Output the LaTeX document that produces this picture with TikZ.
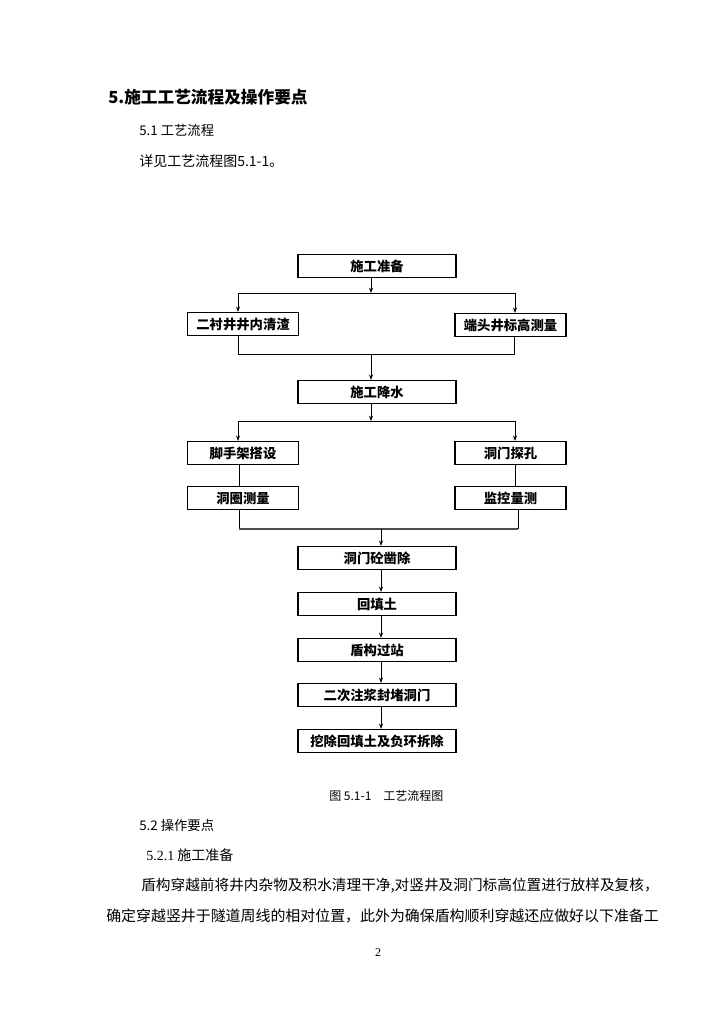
\documentclass[tikz,border=0pt]{standalone}
\usepackage{fontspec}
\setmainfont{Liberation Serif}
\newfontfamily\cjk{Noto Sans CJK SC}
\usetikzlibrary{arrows.meta}

\begin{document}
\begin{tikzpicture}[x=0.75pt, y=-0.75pt, >={Stealth[length=4pt,width=3pt]},
    stepbox/.style={draw, line width=1.2pt, inner sep=0pt, minimum height=17pt,
                    font=\cjk\bfseries\fontsize{10}{12}\selectfont},
    midbox/.style={stepbox, minimum width=118.5pt},
    sidebox/.style={stepbox, minimum width=83pt},
    link/.style={line width=0.5pt},
    txt/.style={anchor=west, inner sep=0pt, font=\cjk\fontsize{10}{12}\selectfont}]

  \useasboundingbox[fill=white] (0,0) rectangle (725,1024);

  % page text
  \node[txt, font=\cjk\bfseries\fontsize{12.5}{14}\selectfont] (title) at (108,97) {5.施工工艺流程及操作要点};
  \node[txt] (sec51) at (139,130) {5.1 工艺流程};
  \node[txt, font=\cjk\fontsize{10.5}{12}\selectfont] (see) at (139,161) {详见工艺流程图5.1-1。};

  % flow chart
  \node[midbox] (prep) at (377,266) {施工准备};
  \node[sidebox] (clean) at (243,324) {二衬井井内清渣};
  \node[sidebox] (level) at (510.5,325) {端头井标高测量};
  \node[midbox] (dewater) at (377,392) {施工降水};
  \node[sidebox] (scaf) at (243,453) {脚手架搭设};
  \node[sidebox] (probe) at (510.5,453) {洞门探孔};
  \node[sidebox] (ring) at (243,498) {洞圈测量};
  \node[sidebox] (monitor) at (510.5,498) {监控量测};
  \node[midbox] (break) at (377,558) {洞门砼凿除};
  \foreach \i/\yy/\lbl in {1/604/回填土, 2/650/盾构过站, 3/695/二次注浆封堵洞门, 4/741/挖除回填土及负环拆除}{
    \node[midbox] (low\i) at (377,\yy) {\lbl};
  }

  \coordinate (s1) at (371,293);  \coordinate (s1l) at (238,293);  \coordinate (s1r) at (515,293);
  \coordinate (m1) at (371,354);  \coordinate (m1l) at (238,354);  \coordinate (m1r) at (514,354);
  \coordinate (s2) at (371,421);  \coordinate (s2l) at (238,421);  \coordinate (s2r) at (515,421);
  \coordinate (m2) at (381,529);  \coordinate (m2l) at (239,529);  \coordinate (m2r) at (518,529);

  \draw[link,->] (prep.south -| s1) -- (s1);
  \draw[link] (s1l) -- (s1r);
  \draw[link,->] (s1l) -- (s1l |- clean.north);
  \draw[link,->] (s1r) -- (s1r |- level.north);
  \draw[link] (clean.south -| m1l) -- (m1l) -- (m1r) -- (level.south -| m1r);
  \draw[link,->] (m1) -- (m1 |- dewater.north);

  \draw[link,->] (dewater.south -| s2) -- (s2);
  \draw[link] (s2l) -- (s2r);
  \draw[link,->] (s2l) -- (s2l |- scaf.north);
  \draw[link,->] (s2r) -- (s2r |- probe.north);
  \draw[link] (scaf.south -| m2l) -- (ring.north -| m2l);
  \draw[link] (probe.south -| s2r) -- (monitor.north -| s2r);
  \draw[link] (ring.south -| m2l) -- (m2l);
  \draw[link] (monitor.south -| m2r) -- (m2r);
  \draw[line width=0.9pt, black!70] (m2l) -- (m2r);
  \draw[link,->] (m2) -- (m2 |- break.north);
  \draw[link,->] (break.south -| m2) -- (low1.north -| m2);
  \foreach \i/\j in {1/2, 2/3, 3/4}
    \draw[link,->] (low\i.south -| m2) -- (low\j.north -| m2);

  % text below the chart
  \node[txt, font=\cjk\fontsize{9}{11}\selectfont] (cap) at (329,796) {图 5.1-1\quad 工艺流程图};
  \node[txt] (sec52) at (139,825) {5.2 操作要点};
  \node[txt, font=\cjk\fontsize{10.5}{12}\selectfont] (sec521) at (146,855) {{\rmfamily 5.2.1} 施工准备};
  \node[txt, font=\cjk\fontsize{11}{13}\selectfont] (para1) at (141,886)
    {盾构穿越前将井内杂物及积水清理干净,对竖井及洞门标高位置进行放样及复核，};
  \node[txt, font=\cjk\fontsize{11.2}{13}\selectfont] (para2) at (106,916)
    {确定穿越竖井于隧道周线的相对位置，此外为确保盾构顺利穿越还应做好以下准备工};
  \node[font=\rmfamily\fontsize{9}{10}\selectfont] (pageno) at (378,953) {2};
\end{tikzpicture}
\end{document}
